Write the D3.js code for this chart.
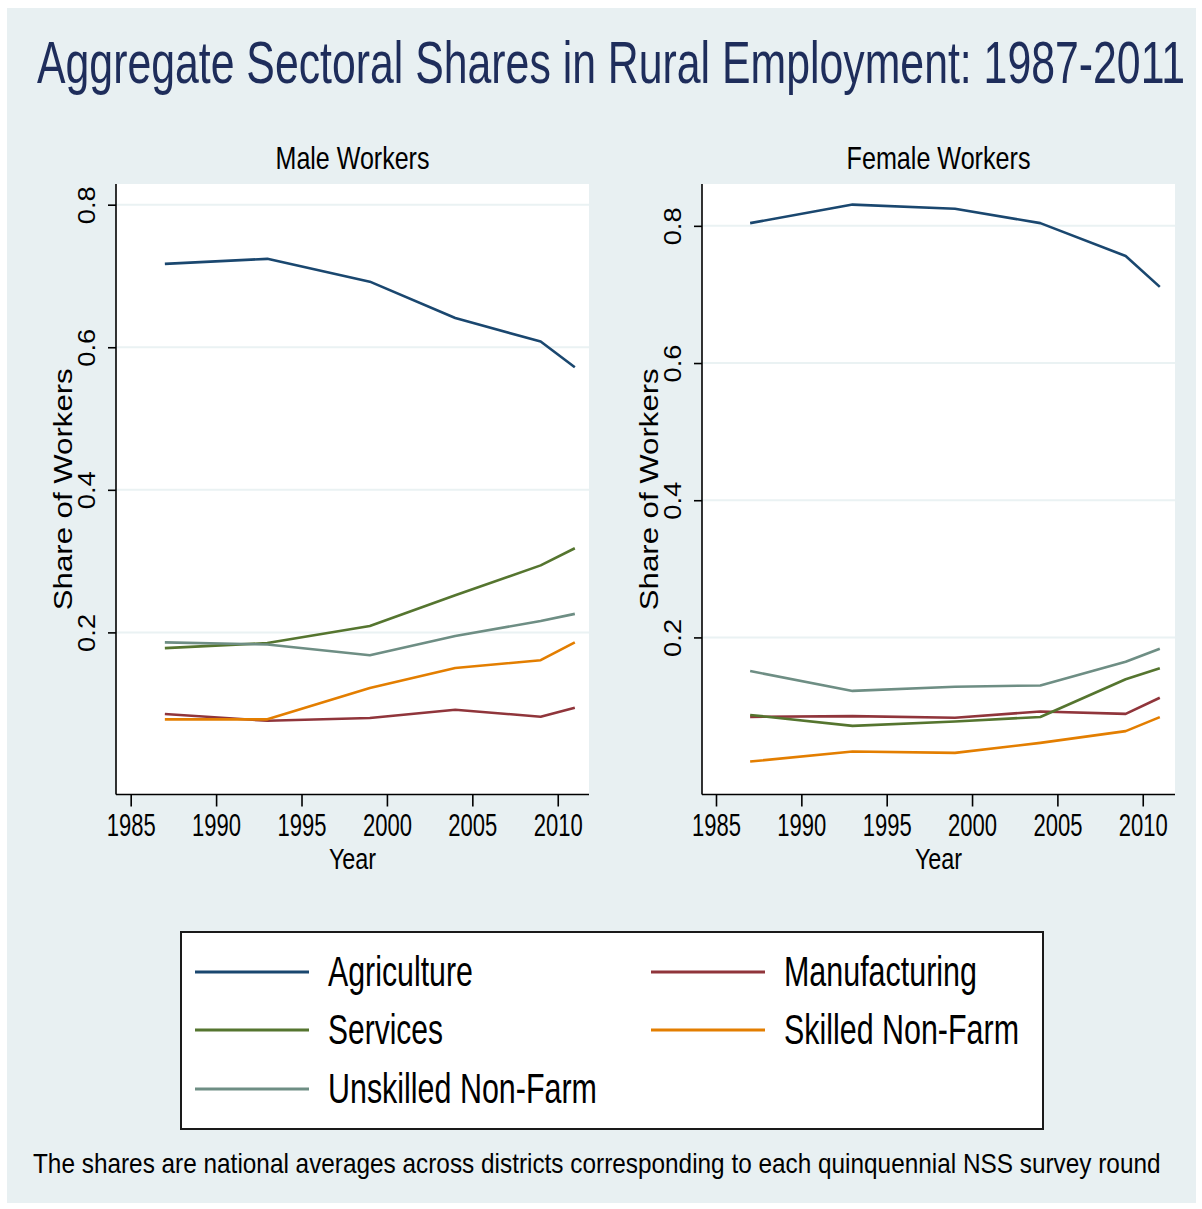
<!DOCTYPE html>
<html>
<head>
<meta charset="utf-8">
<script src="https://cdn.jsdelivr.net/npm/d3@7"></script>
<style>
  html, body { margin: 0; padding: 0; background: #ffffff; }
  svg { display: block; }
  text { font-family: "Liberation Sans", Arial, Helvetica, sans-serif; }
</style>
</head>
<body>
<svg id="chart" width="1202" height="1209"></svg>
<script>
// Survey rounds (NSS quinquennial rounds)
const years = [1987, 1993, 1999, 2004, 2009, 2011];

// Sector labels in legend order
const sectors = ["Agriculture", "Manufacturing", "Services", "Skilled Non-Farm", "Unskilled Non-Farm"];

// Male workers: share of rural employment by sector
const maleAgriculture   = [0.717, 0.724, 0.692, 0.641, 0.608, 0.572];
const maleManufacturing = [0.0855, 0.076, 0.080, 0.0915, 0.0817, 0.0943];
const maleServices      = [0.178, 0.185, 0.209, 0.252, 0.294, 0.318];
const maleSkilled       = [0.078, 0.078, 0.122, 0.150, 0.161, 0.186];
const maleUnskilled     = [0.186, 0.183, 0.168, 0.195, 0.216, 0.226];

// Female workers: share of rural employment by sector
const femaleAgriculture   = [0.804, 0.831, 0.825, 0.804, 0.756, 0.711];
const femaleManufacturing = [0.0842, 0.0852, 0.0828, 0.092, 0.0886, 0.112];
const femaleServices      = [0.087, 0.071, 0.0774, 0.084, 0.139, 0.155];
const femaleSkilled       = [0.019, 0.0336, 0.0317, 0.0463, 0.0634, 0.0838];
const femaleUnskilled     = [0.151, 0.122, 0.128, 0.130, 0.1645, 0.1835];

// Axis ticks
const xTicks = [1985, 1990, 1995, 2000, 2005, 2010];
const yTicks = [0.2, 0.4, 0.6, 0.8];

// Text
const titleText = "Aggregate Sectoral Shares in Rural Employment: 1987-2011";
const panelTitles = ["Male Workers", "Female Workers"];
const xAxisTitle = "Year";
const yAxisTitle = "Share of Workers";
const noteText = "The shares are national averages across districts corresponding to each quinquennial NSS survey round";

// Line colours per sector
const sectorColors = {
  "Agriculture": "#1a476f",
  "Manufacturing": "#90353b",
  "Services": "#55752f",
  "Skilled Non-Farm": "#e37e00",
  "Unskilled Non-Farm": "#6e8e84"
};

const maleSeries = {
  "Agriculture": maleAgriculture,
  "Manufacturing": maleManufacturing,
  "Services": maleServices,
  "Skilled Non-Farm": maleSkilled,
  "Unskilled Non-Farm": maleUnskilled
};
const femaleSeries = {
  "Agriculture": femaleAgriculture,
  "Manufacturing": femaleManufacturing,
  "Services": femaleServices,
  "Skilled Non-Farm": femaleSkilled,
  "Unskilled Non-Farm": femaleUnskilled
};

const svg = d3.select("#chart");
const BG = "#e8f0f2";

// Squeeze a text horizontally (along its own direction) so that it spans `len` pixels.
function fit(sel, len, base) {
  sel.attr("x", 0).attr("y", 0).attr("dy", null).each(function () {
    const natural = this.getComputedTextLength();
    const k = natural > 0 ? len / natural : 1;
    d3.select(this).attr("transform", `${base} scale(${k},1)`);
  });
  return sel;
}

// Graph region
svg.append("rect").attr("x", 7).attr("y", 8).attr("width", 1189).attr("height", 1195).attr("fill", BG);

// Main title
fit(svg.append("text")
  .attr("font-size", 58.7)
  .attr("fill", "#1e2d5b")
  .text(titleText), 1148, "translate(37,82.7)");

const panels = [
  { title: panelTitles[0], titleLen: 154, series: maleSeries,
    left: 116, right: 589, top: 184, bottom: 794.5,
    xDomain: [1984.14, 2011.83], yDomain: [-0.0274, 0.829] },
  { title: panelTitles[1], titleLen: 184, series: femaleSeries,
    left: 702, right: 1175, top: 184, bottom: 794.5,
    xDomain: [1984.18, 2011.89], yDomain: [-0.029, 0.861] }
];

panels.forEach(p => {
  const x = d3.scaleLinear().domain(p.xDomain).range([p.left, p.right]);
  const y = d3.scaleLinear().domain(p.yDomain).range([p.bottom, p.top]);
  const g = svg.append("g");
  const cx = (p.left + p.right) / 2;

  // Plot region
  g.append("rect")
    .attr("x", p.left).attr("y", p.top)
    .attr("width", p.right - p.left).attr("height", p.bottom - p.top)
    .attr("fill", "#ffffff");

  // Horizontal grid lines
  g.selectAll("line.grid").data(yTicks).join("line")
    .attr("class", "grid")
    .attr("x1", p.left).attr("x2", p.right)
    .attr("y1", d => y(d)).attr("y2", d => y(d))
    .attr("stroke", "#eaf2f3").attr("stroke-width", 2);

  // Series lines
  const line = d3.line().x((d, i) => x(years[i])).y(d => y(d));
  sectors.forEach(s => {
    g.append("path")
      .datum(p.series[s])
      .attr("d", line)
      .attr("fill", "none")
      .attr("stroke", sectorColors[s])
      .attr("stroke-width", 2.6)
      .attr("stroke-linejoin", "round");
  });

  // Y axis
  const yAxis = d3.axisLeft(y).tickValues(yTicks).tickSize(8).tickFormat(d3.format(".1f"));
  const ya = g.append("g").attr("transform", `translate(${p.left},0)`).call(yAxis);
  ya.select(".domain").attr("d", `M0,${p.top}V${p.bottom}`).attr("stroke", "#000").attr("stroke-width", 1.6);
  ya.selectAll(".tick line").attr("stroke", "#000").attr("stroke-width", 1.6);
  const yLabels = ya.selectAll(".tick text")
    .attr("text-anchor", "middle")
    .attr("font-size", 23.7)
    .attr("fill", "#000")
    .attr("font-family", null);
  fit(yLabels, 38, "translate(-21,0) rotate(-90)");

  // X axis
  const xAxis = d3.axisBottom(x).tickValues(xTicks).tickSize(12).tickFormat(d3.format("d"));
  const xa = g.append("g").attr("transform", `translate(0,${p.bottom})`).call(xAxis);
  xa.select(".domain").attr("d", `M${p.left},0H${p.right}`).attr("stroke", "#000").attr("stroke-width", 1.6);
  xa.selectAll(".tick line").attr("stroke", "#000").attr("stroke-width", 1.6);
  const xLabels = xa.selectAll(".tick text")
    .attr("text-anchor", "middle")
    .attr("font-size", 31)
    .attr("fill", "#000")
    .attr("font-family", null);
  fit(xLabels, 49, "translate(0,41.2)");

  // Axis titles
  fit(g.append("text")
    .attr("text-anchor", "middle").attr("font-size", 29.5).attr("fill", "#000")
    .text(xAxisTitle), 47.3, `translate(${cx},869.3)`);
  fit(g.append("text")
    .attr("text-anchor", "middle").attr("font-size", 26).attr("fill", "#000")
    .text(yAxisTitle), 242, `translate(${p.left - 44},${(p.top + p.bottom) / 2}) rotate(-90)`);

  // Panel title
  fit(g.append("text")
    .attr("text-anchor", "middle").attr("font-size", 30.7).attr("fill", "#000")
    .text(p.title), p.titleLen, `translate(${cx},168.7)`);
});

// Legend
const legend = svg.append("g");
legend.append("rect")
  .attr("x", 181).attr("y", 932).attr("width", 862).attr("height", 197)
  .attr("fill", "#ffffff").attr("stroke", "#1a1a1a").attr("stroke-width", 2);

const legendLayout = [
  { s: "Agriculture", col: 0, row: 0, len: 145 },
  { s: "Manufacturing", col: 1, row: 0, len: 193 },
  { s: "Services", col: 0, row: 1, len: 115 },
  { s: "Skilled Non-Farm", col: 1, row: 1, len: 235 },
  { s: "Unskilled Non-Farm", col: 0, row: 2, len: 269 }
];
const colX = [195, 651];
const rowY = [972, 1030, 1089];
legendLayout.forEach(d => {
  const lx = colX[d.col], ly = rowY[d.row];
  legend.append("line")
    .attr("x1", lx).attr("x2", lx + 114)
    .attr("y1", ly).attr("y2", ly)
    .attr("stroke", sectorColors[d.s]).attr("stroke-width", 3);
  fit(legend.append("text")
    .attr("font-size", 42.8).attr("fill", "#000")
    .text(d.s), d.len, `translate(${lx + 133},${ly + 14})`);
});

// Note
fit(svg.append("text")
  .attr("font-size", 27).attr("fill", "#000")
  .text(noteText), 1128, "translate(33,1172.7)");
</script>
</body>
</html>
